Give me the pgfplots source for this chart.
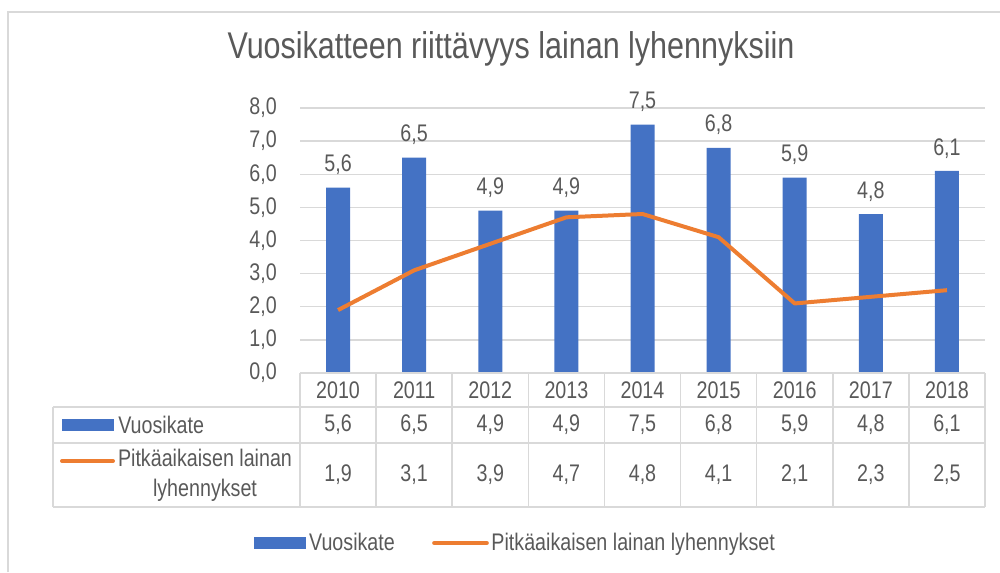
\documentclass[border=0pt]{standalone}
\usepackage{fontspec}
\setmainfont{Liberation Sans}[FakeStretch=0.82]
\usepackage{pgfplots}
\pgfplotsset{compat=1.18}
\usepackage{pgfplotstable}

\definecolor{barblue}{HTML}{4472C4}
\definecolor{lineorange}{HTML}{ED7D31}
\definecolor{textgray}{HTML}{595959}
\definecolor{gridgray}{HTML}{D9D9D9}

\newcommand\sm{\fontsize{18}{22.5}\selectfont}

% x = vuosi (0 = 2010), a = vuosikate, b = lainan lyhennykset
\pgfplotstableread{
x a b
0 5.6 1.9
1 6.5 3.1
2 4.9 3.9
3 4.9 4.7
4 7.5 4.8
5 6.8 4.1
6 5.9 2.1
7 4.8 2.3
8 6.1 2.5
}\data

\pgfkeys{/pgf/number format/.cd, use comma, fixed, fixed zerofill, precision=1, assume math mode=true}

\begin{document}
\begin{tikzpicture}[x=0.75pt,y=0.75pt]
\path[use as bounding box] (0,0) rectangle (1000,572);
\draw[gridgray, line width=1.1pt] (8,0) -- (8,560) -- (1000,560);

\node[anchor=base, font=\fontsize{27.9}{33}\selectfont, text=textgray] at (511,513)
  {Vuosikatteen riittävyys lainan lyhennyksiin};

\begin{axis}[
  at={(225pt,149.25pt)}, anchor=south west,
  scale only axis, width=513.75pt, height=198.75pt,
  xmin=-0.5, xmax=8.5, ymin=0, ymax=8,
  clip=false,
  axis line style={draw=none},
  major tick length=0pt,
  ytick={0,1,...,8},
  ymajorgrids, grid style={gridgray, line width=1.1pt},
  xtick={0,1,...,8},
  xticklabels={2010,2011,2012,2013,2014,2015,2016,2017,2018},
  xticklabel style={anchor=center, yshift=-12.75pt, font=\sm, text=textgray},
  yticklabel style={anchor=east, inner sep=0pt, xshift=-17.25pt, font=\sm, text=textgray},
  legend columns=2,
  legend style={at={(0.3153,-0.6415)}, anchor=center, draw=none, fill=none,
    font=\sm, text=textgray,
    /tikz/every even column/.append style={column sep=26pt}},
]
\addplot[ybar, bar width=18pt, fill=barblue, draw=none,
  nodes near coords, nodes near coords align={anchor=center},
  nodes near coords style={font=\sm, text=textgray, yshift=17pt},
  legend image code/.code={\fill[barblue] (0pt,-4.7pt) rectangle (39pt,4.7pt);}]
  table[x=x, y=a]{\data};
\addlegendentry{Vuosikate}
\addplot[lineorange, line width=3pt, mark=none, line join=round,
  legend image code/.code={\draw[lineorange, line width=3pt, line cap=round] (1.5pt,0pt) -- (41pt,0pt);}]
  table[x=x, y=b]{\data};
\addlegendentry{Pitkäaikaisen lainan lyhennykset}

% taulukon arvot
\addplot[forget plot, draw=none, mark=none, point meta=\thisrow{a},
  nodes near coords, nodes near coords align={anchor=center},
  nodes near coords style={font=\sm, text=textgray}]
  table[x=x, y expr=-1.570]{\data};
\addplot[forget plot, draw=none, mark=none, point meta=\thisrow{b},
  nodes near coords, nodes near coords align={anchor=center},
  nodes near coords style={font=\sm, text=textgray}]
  table[x=x, y expr=-3.079]{\data};
\end{axis}

% taulukon viivat
\begin{scope}[gridgray, line width=1.1pt]
\draw (300,199) -- (985,199);
\draw (53,165) -- (985,165);
\draw (53,129) -- (985,129);
\draw (53,65) -- (985,65);
\draw (53,165) -- (53,65);
\foreach \k in {0,...,9} \draw ({300+76.111*\k},199) -- ({300+76.111*\k},65);
\end{scope}

\fill[barblue] (62,141) rectangle (114,153);
\node[anchor=west, inner sep=0pt, font=\sm, text=textgray] at (118,147) {Vuosikate};
\draw[lineorange, line width=3pt, line cap=round] (62,111) -- (113,111);
\node[align=center, inner sep=0pt, font=\sm, text=textgray] at (205,97)
  {Pitkäaikaisen lainan\\lyhennykset};
\end{tikzpicture}
\end{document}
